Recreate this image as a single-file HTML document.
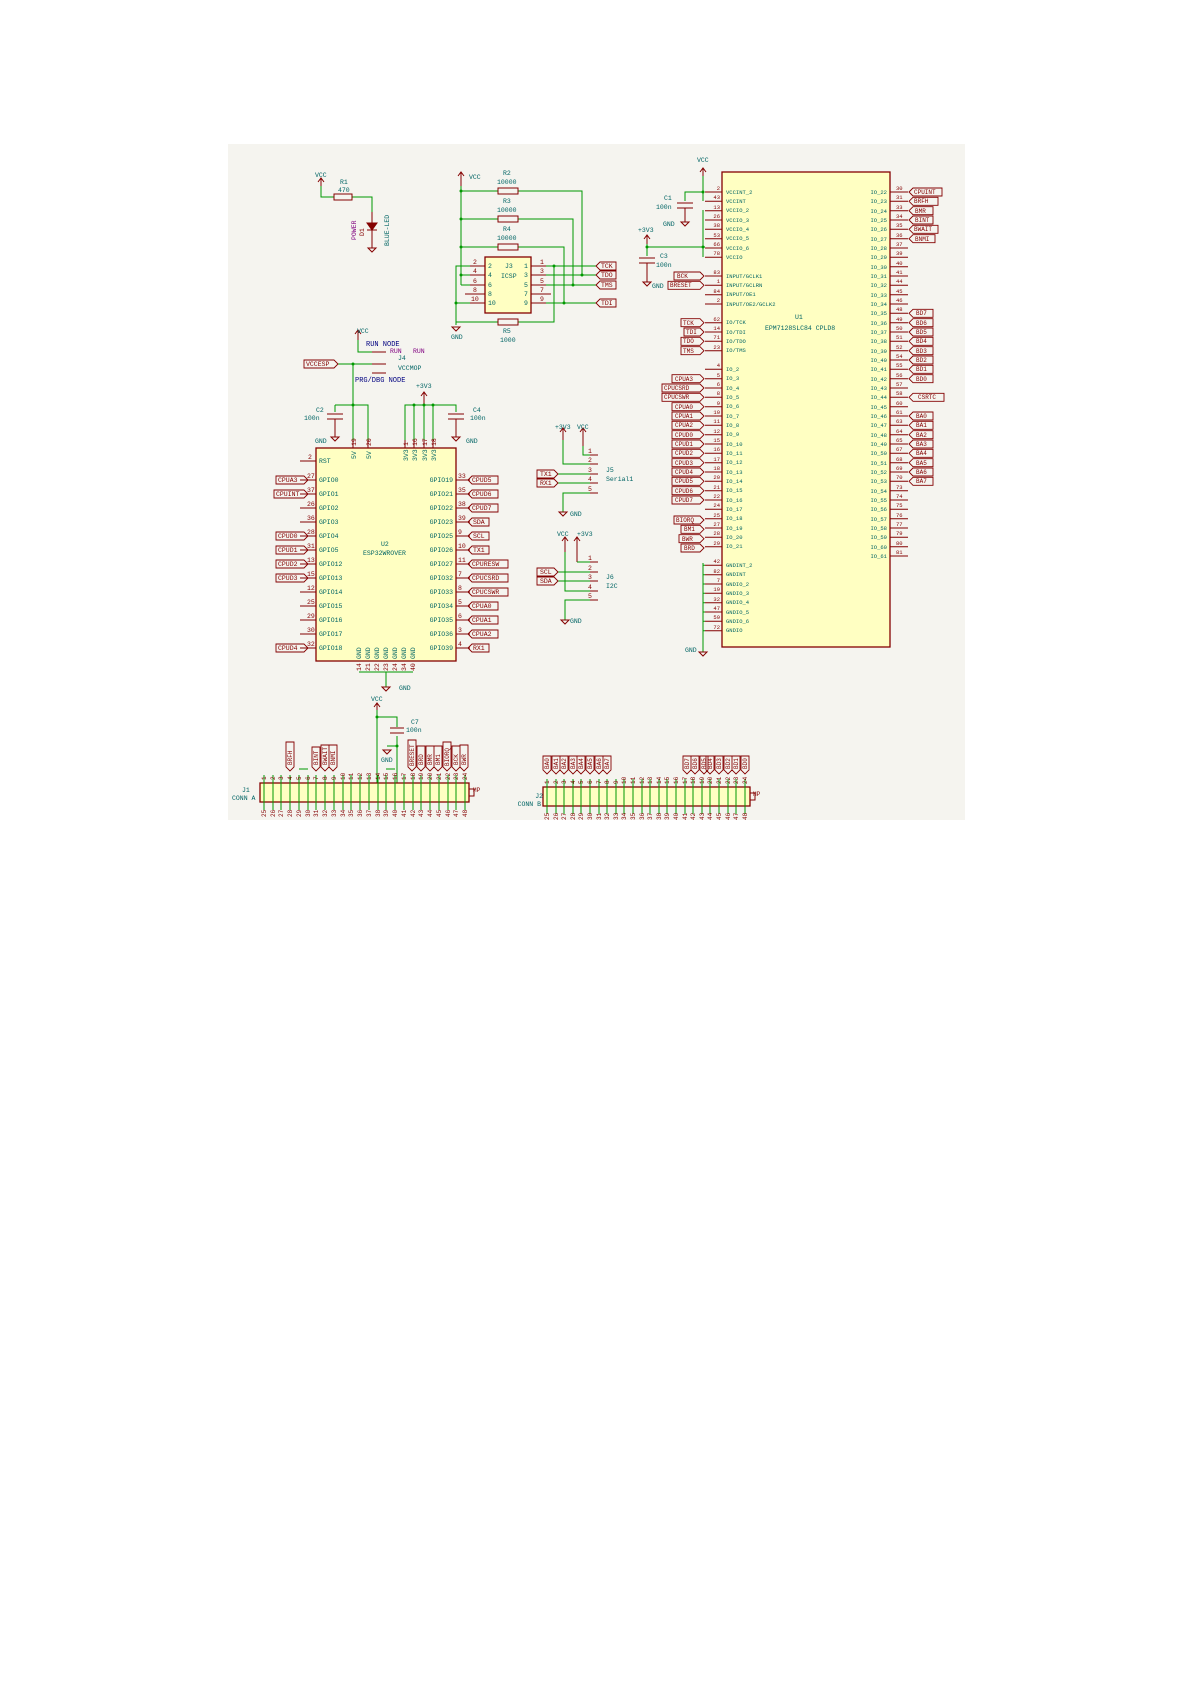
<!DOCTYPE html>
<html><head><meta charset="utf-8"><style>
html,body{margin:0;padding:0;background:#fff;}
svg{display:block;}
text{font-family:"Liberation Mono",monospace;}
.t{fill:#006464;font-size:6.5px;}
.r{fill:#840000;font-size:6.5px;}
.b{fill:#000080;font-size:7px;}
.p{fill:#800080;font-size:6.5px;}
.w{stroke:#009900;stroke-width:1;fill:none;}
.k{stroke:#840000;stroke-width:1;fill:none;}
.kb{stroke:#840000;stroke-width:1.3;fill:#ffffc2;}
.lb{stroke:#840000;stroke-width:0.9;fill:none;}
.d{fill:#009900;}
</style></head><body>
<svg width="1191" height="1684" viewBox="0 0 1191 1684" xmlns="http://www.w3.org/2000/svg">
<rect x="0" y="0" width="1191" height="1684" fill="#ffffff"/>
<rect x="228" y="144" width="737" height="676" fill="#f5f4ef"/>

<!-- R1 / D1 -->
<path class="k" d="M321 186 L321 178 M318 182 L321 178 L324 182"/>
<text class="t" x="315" y="177">VCC</text>
<path class="w" d="M321 186 L321 197 L334 197 M352 197 L372 197 L372 212"/>
<rect class="k" x="334" y="194" width="18" height="6"/>
<text class="t" x="340" y="184">R1</text><text class="t" x="338" y="192">470</text>
<path class="k" d="M372 212 L372 248 M367 223 L377 223 L372 230 Z M367 230 L377 230"/>
<path d="M367 223 L377 223 L372 230 Z" fill="#840000"/>
<path class="k" d="M368 248 L376 248 L372 252 Z"/>
<text class="p" transform="translate(356,240) rotate(-90)">POWER</text>
<text class="r" transform="translate(364,236) rotate(-90)">D1</text>
<text class="t" transform="translate(389,246) rotate(-90)">BLUE-LED</text>

<!-- R2-R5 / J3 -->
<path class="k" d="M461 186 L461 172 M458 176 L461 172 L464 176"/>
<text class="t" x="469" y="179">VCC</text>
<path class="w" d="M461 186 L461 285 M461 191 L498 191 M518 191 L582 191 L582 275 M461 219 L498 219 M518 219 L573 219 L573 285 M461 247 L498 247 M518 247 L564 247 L564 303 M461 275 L470 275 M461 285 L470 285"/>
<path class="w" d="M456 325 L456 266 L470 266 M456 303 L470 303 M456 322 L498 322 M518 322 L554 322 L554 266"/>
<path class="w" d="M546 266 L596 266 M546 275 L596 275 M546 285 L596 285 M546 303 L596 303"/>
<circle class="d" cx="461" cy="191" r="1.5"/><circle class="d" cx="461" cy="219" r="1.5"/><circle class="d" cx="461" cy="247" r="1.5"/><circle class="d" cx="461" cy="275" r="1.5"/><circle class="d" cx="456" cy="303" r="1.5"/><circle class="d" cx="554" cy="266" r="1.5"/><circle class="d" cx="582" cy="275" r="1.5"/><circle class="d" cx="573" cy="285" r="1.5"/><circle class="d" cx="564" cy="303" r="1.5"/>
<rect class="k" x="498" y="188" width="20" height="6"/><rect class="k" x="498" y="216" width="20" height="6"/><rect class="k" x="498" y="244" width="20" height="6"/><rect class="k" x="498" y="319" width="20" height="6"/>
<text class="t" x="503" y="175">R2</text><text class="t" x="497" y="184">10000</text>
<text class="t" x="503" y="203">R3</text><text class="t" x="497" y="212">10000</text>
<text class="t" x="503" y="231">R4</text><text class="t" x="497" y="240">10000</text>
<text class="t" x="503" y="333">R5</text><text class="t" x="500" y="342">1000</text>
<path class="k" d="M452 327 L460 327 L456 331 Z"/><text class="t" x="451" y="339">GND</text>
<rect class="kb" x="485" y="257" width="46" height="56"/>
<path class="k" d="M470 266 L485 266 M470 275 L485 275 M470 285 L485 285 M465 294 L485 294 M470 303 L485 303 M531 266 L546 266 M531 275 L546 275 M531 285 L546 285 M531 294 L551 294 M531 303 L546 303"/>
<text class="r" x="473" y="264">2</text><text class="r" x="473" y="273">4</text><text class="r" x="473" y="283">6</text><text class="r" x="473" y="292">8</text><text class="r" x="471" y="301">10</text>
<text class="t" x="488" y="268">2</text><text class="t" x="488" y="277">4</text><text class="t" x="488" y="287">6</text><text class="t" x="488" y="296">8</text><text class="t" x="488" y="305">10</text>
<text class="t" x="505" y="268">J3</text><text class="t" x="501" y="278">ICSP</text>
<text class="t" x="524" y="268">1</text><text class="t" x="524" y="277">3</text><text class="t" x="524" y="287">5</text><text class="t" x="524" y="296">7</text><text class="t" x="524" y="305">9</text>
<text class="r" x="540" y="264">1</text><text class="r" x="540" y="273">3</text><text class="r" x="540" y="283">5</text><text class="r" x="540" y="292">7</text><text class="r" x="540" y="301">9</text>
<path class="lb" d="M596 266 L600 262 L616 262 L616 270 L600 270 Z M596 275 L600 271 L616 271 L616 279 L600 279 Z M596 285 L600 281 L616 281 L616 289 L600 289 Z M596 303 L600 299 L616 299 L616 307 L600 307 Z"/>
<text class="r" x="601" y="268">TCK</text><text class="r" x="601" y="277">TDO</text><text class="r" x="601" y="287">TMS</text><text class="r" x="601" y="305">TDI</text>

<!-- J4 -->
<path class="k" d="M358 340 L358 330 M355 334 L358 330 L361 334"/><text class="t" x="357" y="333">VCC</text>
<path class="w" d="M358 340 L358 352 L372 352 M338 364 L372 364 M353 364 L353 448"/>
<circle class="d" cx="353" cy="364" r="1.5"/>
<path class="k" d="M372 352 L386 352 M372 364 L386 364 M372 373 L386 373"/>
<text class="b" x="366" y="346">RUN NODE</text>
<text class="p" x="390" y="353">RUN</text><text class="p" x="413" y="353">RUN</text>
<text class="t" x="398" y="360">J4</text><text class="t" x="398" y="370">VCCMOP</text>
<text class="b" x="355" y="382">PRG/DBG NODE</text>
<path class="lb" d="M304 360 L334 360 L338 364 L334 368 L304 368 Z"/><text class="r" x="306" y="366">VCCESP</text>

<!-- ESP32 U2 -->
<path class="k" d="M424 405 L424 392 M421 396 L424 392 L427 396"/><text class="t" x="416" y="388">+3V3</text>
<path class="w" d="M335 405 L368 405 L368 440 M405 440 L405 405 L456 405 L456 412 M414 405 L414 440 M424 405 L424 440 M433 405 L433 440 M335 405 L335 412"/>
<circle class="d" cx="353" cy="405" r="1.5"/><circle class="d" cx="414" cy="405" r="1.5"/><circle class="d" cx="424" cy="405" r="1.5"/><circle class="d" cx="433" cy="405" r="1.5"/>
<path class="k" d="M327 414 L343 414 M327 419 L343 419 M335 419 L335 437 M331 437 L339 437 L335 441 Z M448 414 L464 414 M448 419 L464 419 M456 419 L456 437 M452 437 L460 437 L456 441 Z"/>
<text class="t" x="316" y="412">C2</text><text class="t" x="304" y="420">100n</text><text class="t" x="315" y="443">GND</text>
<text class="t" x="473" y="412">C4</text><text class="t" x="470" y="420">100n</text><text class="t" x="466" y="443">GND</text>
<path class="k" d="M353 440 L353 448 M368 440 L368 448 M405 440 L405 448 M414 440 L414 448 M424 440 L424 448 M433 440 L433 448"/>
<rect class="kb" x="316" y="448" width="140" height="213"/>
<text class="t" transform="translate(356,459) rotate(-90)">5V</text><text class="t" transform="translate(371,459) rotate(-90)">5V</text>
<text class="t" transform="translate(408,461) rotate(-90)">3V3</text><text class="t" transform="translate(417,461) rotate(-90)">3V3</text><text class="t" transform="translate(427,461) rotate(-90)">3V3</text><text class="t" transform="translate(436,461) rotate(-90)">3V3</text>
<text class="r" transform="translate(356,446) rotate(-90)">19</text><text class="r" transform="translate(371,446) rotate(-90)">20</text><text class="r" transform="translate(408,446) rotate(-90)">1</text><text class="r" transform="translate(417,446) rotate(-90)">16</text><text class="r" transform="translate(427,446) rotate(-90)">17</text><text class="r" transform="translate(436,446) rotate(-90)">18</text>
<text class="t" x="381" y="546">U2</text><text class="t" x="363" y="555">ESP32WROVER</text>
<!-- left pins -->
<path class="k" d="M300 461 L316 461 M300 480 L316 480 M300 494 L316 494 M300 508 L316 508 M300 522 L316 522 M300 536 L316 536 M300 550 L316 550 M300 564 L316 564 M300 578 L316 578 M300 592 L316 592 M300 606 L316 606 M300 620 L316 620 M300 634 L316 634 M300 648 L316 648"/>
<path class="k" d="M456 480 L470 480 M456 494 L470 494 M456 508 L470 508 M456 522 L470 522 M456 536 L470 536 M456 550 L470 550 M456 564 L470 564 M456 578 L470 578 M456 592 L470 592 M456 606 L470 606 M456 620 L470 620 M456 634 L470 634 M456 648 L470 648"/>
<g class="t"><text x="319" y="463">RST</text><text x="319" y="482">GPIO0</text><text x="319" y="496">GPIO1</text><text x="319" y="510">GPIO2</text><text x="319" y="524">GPIO3</text><text x="319" y="538">GPIO4</text><text x="319" y="552">GPIO5</text><text x="319" y="566">GPIO12</text><text x="319" y="580">GPIO13</text><text x="319" y="594">GPIO14</text><text x="319" y="608">GPIO15</text><text x="319" y="622">GPIO16</text><text x="319" y="636">GPIO17</text><text x="319" y="650">GPIO18</text></g>
<g class="t" text-anchor="end"><text x="453" y="482">GPIO19</text><text x="453" y="496">GPIO21</text><text x="453" y="510">GPIO22</text><text x="453" y="524">GPIO23</text><text x="453" y="538">GPIO25</text><text x="453" y="552">GPIO26</text><text x="453" y="566">GPIO27</text><text x="453" y="580">GPIO32</text><text x="453" y="594">GPIO33</text><text x="453" y="608">GPIO34</text><text x="453" y="622">GPIO35</text><text x="453" y="636">GPIO36</text><text x="453" y="650">GPIO39</text></g>
<g class="r"><text x="308" y="459">2</text><text x="307" y="478">27</text><text x="307" y="492">37</text><text x="307" y="506">26</text><text x="307" y="520">36</text><text x="307" y="534">28</text><text x="307" y="548">31</text><text x="307" y="562">13</text><text x="307" y="576">15</text><text x="307" y="590">12</text><text x="307" y="604">25</text><text x="307" y="618">29</text><text x="307" y="632">30</text><text x="307" y="646">32</text>
<text x="458" y="478">33</text><text x="458" y="492">35</text><text x="458" y="506">38</text><text x="458" y="520">39</text><text x="458" y="534">9</text><text x="458" y="548">10</text><text x="458" y="562">11</text><text x="458" y="576">7</text><text x="458" y="590">8</text><text x="458" y="604">5</text><text x="458" y="618">6</text><text x="458" y="632">3</text><text x="458" y="646">4</text></g>
<path class="lb" d="M276 476 L304 476 L308 480 L304 484 L276 484 Z M274 490 L304 490 L308 494 L304 498 L274 498 Z M276 532 L304 532 L308 536 L304 540 L276 540 Z M276 546 L304 546 L308 550 L304 554 L276 554 Z M276 560 L304 560 L308 564 L304 568 L276 568 Z M276 574 L304 574 L308 578 L304 582 L276 582 Z M276 644 L304 644 L308 648 L304 652 L276 652 Z"/>
<g class="r"><text x="278" y="482">CPUA3</text><text x="276" y="496">CPUINT</text><text x="278" y="538">CPUD0</text><text x="278" y="552">CPUD1</text><text x="278" y="566">CPUD2</text><text x="278" y="580">CPUD3</text><text x="278" y="650">CPUD4</text></g>
<path class="lb" d="M468 480 L472 476 L498 476 L498 484 L472 484 Z M468 494 L472 490 L498 490 L498 498 L472 498 Z M468 508 L472 504 L498 504 L498 512 L472 512 Z M468 522 L472 518 L489 518 L489 526 L472 526 Z M468 536 L472 532 L489 532 L489 540 L472 540 Z M468 550 L472 546 L489 546 L489 554 L472 554 Z M468 564 L472 560 L508 560 L508 568 L472 568 Z M468 578 L472 574 L508 574 L508 582 L472 582 Z M468 592 L472 588 L508 588 L508 596 L472 596 Z M468 606 L472 602 L498 602 L498 610 L472 610 Z M468 620 L472 616 L498 616 L498 624 L472 624 Z M468 634 L472 630 L498 630 L498 638 L472 638 Z M468 648 L472 644 L489 644 L489 652 L472 652 Z"/>
<g class="r"><text x="472" y="482">CPUD5</text><text x="472" y="496">CPUD6</text><text x="472" y="510">CPUD7</text><text x="473" y="524">SDA</text><text x="473" y="538">SCL</text><text x="473" y="552">TX1</text><text x="472" y="566">CPURESW</text><text x="472" y="580">CPUCSRD</text><text x="472" y="594">CPUCSWR</text><text x="472" y="608">CPUA0</text><text x="472" y="622">CPUA1</text><text x="472" y="636">CPUA2</text><text x="473" y="650">RX1</text></g>
<g class="t"><text transform="translate(361,659) rotate(-90)">GND</text><text transform="translate(370,659) rotate(-90)">GND</text><text transform="translate(379,659) rotate(-90)">GND</text><text transform="translate(388,659) rotate(-90)">GND</text><text transform="translate(397,659) rotate(-90)">GND</text><text transform="translate(406,659) rotate(-90)">GND</text><text transform="translate(415,659) rotate(-90)">GND</text></g>
<g class="r"><text transform="translate(361,671) rotate(-90)">14</text><text transform="translate(370,671) rotate(-90)">21</text><text transform="translate(379,671) rotate(-90)">22</text><text transform="translate(388,671) rotate(-90)">23</text><text transform="translate(397,671) rotate(-90)">24</text><text transform="translate(406,671) rotate(-90)">34</text><text transform="translate(415,671) rotate(-90)">40</text></g>
<path class="w" d="M359 672 L413 672 M386 672 L386 687"/>
<path class="k" d="M382 687 L390 687 L386 691 Z"/><text class="t" x="399" y="690">GND</text>

<!-- C7 / VCC -->
<path class="k" d="M377 710 L377 703 M374 707 L377 703 L380 707"/><text class="t" x="371" y="701">VCC</text>
<path class="w" d="M377 710 L377 783 M377 717 L397 717 L397 727 M397 736 L397 746 L397 783 M387 746 L397 746"/>
<circle class="d" cx="377" cy="717" r="1.5"/><circle class="d" cx="397" cy="746" r="1.5"/>
<path class="k" d="M390 728 L404 728 M390 733 L404 733 M383 750 L391 750 L387 754 Z"/>
<text class="t" x="411" y="724">C7</text><text class="t" x="406" y="732">100n</text><text class="t" x="381" y="762">GND</text>

<!-- J5 / J6 -->
<path class="k" d="M563 440 L563 428 M560 432 L563 428 L566 432 M583 446 L583 428 M580 432 L583 428 L586 432"/>
<text class="t" x="555" y="429">+3V3</text><text class="t" x="577" y="429">VCC</text>
<path class="w" d="M583 446 L583 455 L590 455 M563 440 L563 464 L590 464 M558 474 L590 474 M558 483 L590 483 M563 512 L563 493 L590 493"/>
<path class="k" d="M590 455 L598 455 M590 464 L598 464 M590 474 L598 474 M590 483 L598 483 M590 493 L598 493 M559 512 L567 512 L563 516 Z"/>
<g class="r"><text x="588" y="453">1</text><text x="588" y="462">2</text><text x="588" y="472">3</text><text x="588" y="481">4</text><text x="588" y="491">5</text></g>
<text class="t" x="606" y="472">J5</text><text class="t" x="606" y="481">Serial1</text><text class="t" x="570" y="516">GND</text>
<path class="lb" d="M537 470 L554 470 L558 474 L554 478 L537 478 Z M537 479 L554 479 L558 483 L554 487 L537 487 Z"/>
<text class="r" x="540" y="476">TX1</text><text class="r" x="540" y="485">RX1</text>
<path class="k" d="M565 552 L565 537 M562 541 L565 537 L568 541 M577 562 L577 537 M574 541 L577 537 L580 541"/>
<text class="t" x="557" y="536">VCC</text><text class="t" x="577" y="536">+3V3</text>
<path class="w" d="M577 562 L590 562 M558 572 L590 572 M558 581 L590 581 M565 552 L565 591 L590 591 M565 620 L565 600 L590 600"/>
<path class="k" d="M590 562 L598 562 M590 572 L598 572 M590 581 L598 581 M590 591 L598 591 M590 600 L598 600 M561 620 L569 620 L565 624 Z"/>
<g class="r"><text x="588" y="560">1</text><text x="588" y="570">2</text><text x="588" y="579">3</text><text x="588" y="589">4</text><text x="588" y="598">5</text></g>
<text class="t" x="606" y="579">J6</text><text class="t" x="606" y="588">I2C</text><text class="t" x="570" y="623">GND</text>
<path class="lb" d="M537 568 L554 568 L558 572 L554 576 L537 576 Z M537 577 L554 577 L558 581 L554 585 L537 585 Z"/>
<text class="r" x="540" y="574">SCL</text><text class="r" x="540" y="583">SDA</text>

<!-- U1 CPLD -->
<path class="k" d="M703 176 L703 168 M700 172 L703 168 L706 172"/><text class="t" x="697" y="162">VCC</text>
<path class="w" d="M703 176 L703 201 M685 192 L703 192 L685 192 L685 201 M703 210 L703 257 M647 247 L705 247 M647 244 L647 256"/>
<circle class="d" cx="703" cy="192" r="1.5"/><circle class="d" cx="703" cy="247" r="1.5"/><circle class="d" cx="647" cy="247" r="1.5"/>
<path class="k" d="M677 203 L693 203 M677 208 L693 208 M685 208 L685 222 M681 222 L689 222 L685 226 Z"/>
<text class="t" x="664" y="200">C1</text><text class="t" x="656" y="209">100n</text><text class="t" x="663" y="226">GND</text>
<path class="k" d="M647 244 L647 235 M644 239 L647 235 L650 239 M639 258 L655 258 M639 263 L655 263 M647 263 L647 282 M643 282 L651 282 L647 286 Z"/>
<text class="t" x="638" y="232">+3V3</text><text class="t" x="660" y="258">C3</text><text class="t" x="656" y="267">100n</text><text class="t" x="652" y="288">GND</text>
<path class="w" d="M703 563 L703 652"/>
<path class="k" d="M699 652 L707 652 L703 656 Z"/><text class="t" x="685" y="652">GND</text>
<rect class="kb" x="722" y="172" width="168" height="475"/>
<text class="t" x="795" y="319">U1</text><text class="t" x="765" y="330">EPM7128SLC84 CPLD8</text>
<!-- left pin lines -->
<path class="k" d="M705 192H722M705 201.3H722M705 210.7H722M705 220H722M705 229.3H722M705 238.7H722M705 248H722M705 257.3H722M705 276H722M705 285.3H722M705 294.7H722M705 304H722M705 322.7H722M705 332H722M705 341.3H722M705 350.7H722M705 369.3H722M705 378.7H722M705 388H722M705 397.3H722M705 406.7H722M705 416H722M705 425.3H722M705 434.7H722M705 444H722M705 453.3H722M705 462.7H722M705 472H722M705 481.3H722M705 490.7H722M705 500H722M705 509.3H722M705 518.7H722M705 528H722M705 537.3H722M705 546.7H722M705 565.3H722M705 574.7H722M705 584H722M705 593.3H722M705 602.7H722M705 612H722M705 621.3H722M705 630.7H722"/>
<g class="t" style="font-size:5.5px"><text x="726" y="194">VCCINT_2</text><text x="726" y="203">VCCINT</text><text x="726" y="212">VCCIO_2</text><text x="726" y="222">VCCIO_3</text><text x="726" y="231">VCCIO_4</text><text x="726" y="240">VCCIO_5</text><text x="726" y="250">VCCIO_6</text><text x="726" y="259">VCCIO</text>
<text x="726" y="278">INPUT/GCLK1</text><text x="726" y="287">INPUT/GCLRN</text><text x="726" y="296">INPUT/OE1</text><text x="726" y="306">INPUT/OE2/GCLK2</text>
<text x="726" y="324">IO/TCK</text><text x="726" y="334">IO/TDI</text><text x="726" y="343">IO/TDO</text><text x="726" y="352">IO/TMS</text>
<text x="726" y="371">IO_2</text><text x="726" y="380">IO_3</text><text x="726" y="390">IO_4</text><text x="726" y="399">IO_5</text><text x="726" y="408">IO_6</text><text x="726" y="418">IO_7</text><text x="726" y="427">IO_8</text><text x="726" y="436">IO_9</text><text x="726" y="446">IO_10</text><text x="726" y="455">IO_11</text><text x="726" y="464">IO_12</text><text x="726" y="474">IO_13</text><text x="726" y="483">IO_14</text><text x="726" y="492">IO_15</text><text x="726" y="502">IO_16</text><text x="726" y="511">IO_17</text><text x="726" y="520">IO_18</text><text x="726" y="530">IO_19</text><text x="726" y="539">IO_20</text><text x="726" y="548">IO_21</text>
<text x="726" y="567">GNDINT_2</text><text x="726" y="576">GNDINT</text><text x="726" y="586">GNDIO_2</text><text x="726" y="595">GNDIO_3</text><text x="726" y="604">GNDIO_4</text><text x="726" y="614">GNDIO_5</text><text x="726" y="623">GNDIO_6</text><text x="726" y="632">GNDIO</text></g>
<g class="r" style="font-size:5.5px" text-anchor="end"><text x="720" y="190">2</text><text x="720" y="199">43</text><text x="720" y="209">13</text><text x="720" y="218">26</text><text x="720" y="227">38</text><text x="720" y="237">53</text><text x="720" y="246">66</text><text x="720" y="255">78</text><text x="720" y="274">83</text><text x="720" y="283">1</text><text x="720" y="293">84</text><text x="720" y="302">2</text><text x="720" y="321">62</text><text x="720" y="330">14</text><text x="720" y="339">71</text><text x="720" y="349">23</text>
<text x="720" y="367">4</text><text x="720" y="377">5</text><text x="720" y="386">6</text><text x="720" y="395">8</text><text x="720" y="405">9</text><text x="720" y="414">10</text><text x="720" y="423">11</text><text x="720" y="433">12</text><text x="720" y="442">15</text><text x="720" y="451">16</text><text x="720" y="461">17</text><text x="720" y="470">18</text><text x="720" y="479">20</text><text x="720" y="489">21</text><text x="720" y="498">22</text><text x="720" y="507">24</text><text x="720" y="517">25</text><text x="720" y="526">27</text><text x="720" y="535">28</text><text x="720" y="545">29</text>
<text x="720" y="563">42</text><text x="720" y="573">82</text><text x="720" y="582">7</text><text x="720" y="591">19</text><text x="720" y="601">32</text><text x="720" y="610">47</text><text x="720" y="619">59</text><text x="720" y="629">72</text></g>
<path class="w" d="M703 565.3H705M703 574.7H705M703 584H705M703 593.3H705M703 602.7H705M703 612H705M703 621.3H705M703 630.7H705"/>
<!-- left labels -->
<path class="lb" d="M674 272H700L704 276L700 280H674Z M668 281.3H700L704 285.3L700 289.3H668Z M681 318.7H700L704 322.7L700 326.7H681Z M684 328H700L704 332L700 336H684Z M681 337.3H700L704 341.3L700 345.3H681Z M681 346.7H700L704 350.7L700 354.7H681Z"/>
<g class="r" style="font-size:6px"><text x="677" y="278">BCK</text><text x="670" y="287">BRESET</text><text x="683" y="325">TCK</text><text x="686" y="334">TDI</text><text x="683" y="343">TDO</text><text x="683" y="353">TMS</text></g>
<path class="lb" d="M672 374.7H700L704 378.7L700 382.7H672Z M662 384H700L704 388L700 392H662Z M662 393.3H700L704 397.3L700 401.3H662Z M672 402.7H700L704 406.7L700 410.7H672Z M672 412H700L704 416L700 420H672Z M672 421.3H700L704 425.3L700 429.3H672Z M672 430.7H700L704 434.7L700 438.7H672Z M672 440H700L704 444L700 448H672Z M672 449.3H700L704 453.3L700 457.3H672Z M672 458.7H700L704 462.7L700 466.7H672Z M672 468H700L704 472L700 476H672Z M672 477.3H700L704 481.3L700 485.3H672Z M672 486.7H700L704 490.7L700 494.7H672Z M672 496H700L704 500L700 504H672Z M674 516H700L704 520L700 524H674Z M681 525.3H700L704 529.3L700 533.3H681Z M679 534.7H700L704 538.7L700 542.7H679Z M681 544H700L704 548L700 552H681Z"/>
<g class="r" style="font-size:6px"><text x="675" y="381">CPUA3</text><text x="664" y="390">CPUCSRD</text><text x="664" y="399">CPUCSWR</text><text x="675" y="409">CPUA0</text><text x="675" y="418">CPUA1</text><text x="675" y="427">CPUA2</text><text x="675" y="437">CPUD0</text><text x="675" y="446">CPUD1</text><text x="675" y="455">CPUD2</text><text x="675" y="465">CPUD3</text><text x="675" y="474">CPUD4</text><text x="675" y="483">CPUD5</text><text x="675" y="493">CPUD6</text><text x="675" y="502">CPUD7</text><text x="676" y="522">BIORQ</text><text x="684" y="531">BM1</text><text x="682" y="541">BWR</text><text x="684" y="550">BRD</text></g>
<!-- right pin lines -->
<path class="k" d="M890 192H908M890 201.3H908M890 210.7H908M890 220H908M890 229.3H908M890 238.7H908M890 248H908M890 257.3H908M890 266.7H908M890 276H908M890 285.3H908M890 294.7H908M890 304H908M890 313.3H908M890 322.7H908M890 332H908M890 341.3H908M890 350.7H908M890 360H908M890 369.3H908M890 378.7H908M890 388H908M890 397.3H908M890 406.7H908M890 416H908M890 425.3H908M890 434.7H908M890 444H908M890 453.3H908M890 462.7H908M890 472H908M890 481.3H908M890 490.7H908M890 500H908M890 509.3H908M890 518.7H908M890 528H908M890 537.3H908M890 546.7H908M890 556H908"/>
<g class="t" style="font-size:5.5px" text-anchor="end"><text x="887" y="194">IO_22</text><text x="887" y="203">IO_23</text><text x="887" y="213">IO_24</text><text x="887" y="222">IO_25</text><text x="887" y="231">IO_26</text><text x="887" y="241">IO_27</text><text x="887" y="250">IO_28</text><text x="887" y="259">IO_29</text><text x="887" y="269">IO_30</text><text x="887" y="278">IO_31</text><text x="887" y="287">IO_32</text><text x="887" y="297">IO_33</text><text x="887" y="306">IO_34</text><text x="887" y="315">IO_35</text><text x="887" y="325">IO_36</text><text x="887" y="334">IO_37</text><text x="887" y="343">IO_38</text><text x="887" y="353">IO_39</text><text x="887" y="362">IO_40</text><text x="887" y="371">IO_41</text><text x="887" y="381">IO_42</text><text x="887" y="390">IO_43</text><text x="887" y="399">IO_44</text><text x="887" y="409">IO_45</text><text x="887" y="418">IO_46</text><text x="887" y="427">IO_47</text><text x="887" y="437">IO_48</text><text x="887" y="446">IO_49</text><text x="887" y="455">IO_50</text><text x="887" y="465">IO_51</text><text x="887" y="474">IO_52</text><text x="887" y="483">IO_53</text><text x="887" y="493">IO_54</text><text x="887" y="502">IO_55</text><text x="887" y="511">IO_56</text><text x="887" y="521">IO_57</text><text x="887" y="530">IO_58</text><text x="887" y="539">IO_59</text><text x="887" y="549">IO_60</text><text x="887" y="558">IO_61</text></g>
<g class="r" style="font-size:5.5px"><text x="896" y="190">30</text><text x="896" y="199">31</text><text x="896" y="209">33</text><text x="896" y="218">34</text><text x="896" y="227">35</text><text x="896" y="237">36</text><text x="896" y="246">37</text><text x="896" y="255">39</text><text x="896" y="265">40</text><text x="896" y="274">41</text><text x="896" y="283">44</text><text x="896" y="293">45</text><text x="896" y="302">46</text><text x="896" y="311">48</text><text x="896" y="321">49</text><text x="896" y="330">50</text><text x="896" y="339">51</text><text x="896" y="349">52</text><text x="896" y="358">54</text><text x="896" y="367">55</text><text x="896" y="377">56</text><text x="896" y="386">57</text><text x="896" y="395">58</text><text x="896" y="405">60</text><text x="896" y="414">61</text><text x="896" y="423">63</text><text x="896" y="433">64</text><text x="896" y="442">65</text><text x="896" y="451">67</text><text x="896" y="461">68</text><text x="896" y="470">69</text><text x="896" y="479">70</text><text x="896" y="489">73</text><text x="896" y="498">74</text><text x="896" y="507">75</text><text x="896" y="517">76</text><text x="896" y="526">77</text><text x="896" y="535">79</text><text x="896" y="545">80</text><text x="896" y="554">81</text></g>
<path class="lb" d="M909 192L913 188H942V196H913Z M909 201.3L913 197.3H938V205.3H913Z M909 210.7L913 206.7H933V214.7H913Z M909 220L913 216H933V224H913Z M909 229.3L913 225.3H938V233.3H913Z M909 238.7L913 234.7H935V242.7H913Z
M909 313.3L913 309.3H933V317.3H913Z M909 322.7L913 318.7H933V326.7H913Z M909 332L913 328H933V336H913Z M909 341.3L913 337.3H933V345.3H913Z M909 350.7L913 346.7H933V354.7H913Z M909 360L913 356H933V364H913Z M909 369.3L913 365.3H933V373.3H913Z M909 378.7L913 374.7H933V382.7H913Z M909 397.3L913 393.3H944V401.3H913Z
M909 416L913 412H933V420H913Z M909 425.3L913 421.3H933V429.3H913Z M909 434.7L913 430.7H933V438.7H913Z M909 444L913 440H933V448H913Z M909 453.3L913 449.3H933V457.3H913Z M909 462.7L913 458.7H933V466.7H913Z M909 472L913 468H933V476H913Z M909 481.3L913 477.3H933V485.3H913Z"/>
<g class="r" style="font-size:6px"><text x="914" y="194">CPUINT</text><text x="914" y="203">BRFH</text><text x="915" y="213">BMR</text><text x="915" y="222">BINT</text><text x="914" y="231">BWAIT</text><text x="915" y="241">BNMI</text>
<text x="916" y="315">BD7</text><text x="916" y="325">BD6</text><text x="916" y="334">BD5</text><text x="916" y="343">BD4</text><text x="916" y="353">BD3</text><text x="916" y="362">BD2</text><text x="916" y="371">BD1</text><text x="916" y="381">BD0</text><text x="918" y="399">CSRTC</text>
<text x="916" y="418">BA0</text><text x="916" y="427">BA1</text><text x="916" y="437">BA2</text><text x="916" y="446">BA3</text><text x="916" y="455">BA4</text><text x="916" y="465">BA5</text><text x="916" y="474">BA6</text><text x="916" y="483">BA7</text></g>

<!-- J1 -->
<rect x="260" y="783" width="209" height="19" fill="#ffffc2" stroke="#840000" stroke-width="1.3"/>
<path class="w" d="M264 775V810M273 775V810M281 775V810M290 775V810M299 775V810M308 775V810M316 775V810M325 775V810M334 775V810M343 775V810M351 775V810M360 775V810M369 775V810M378 775V810M386 775V810M395 775V810M404 775V810M413 775V810M421 775V810M430 775V810M439 775V810M448 775V810M456 775V810M465 775V810"/>
<path class="w" d="M299 769H308M386 769H395"/>
<path class="k" d="M469 789H474V796H469"/><text class="r" x="473" y="792" style="font-size:6px">MP</text>
<text class="t" x="242" y="792">J1</text><text class="t" x="232" y="800">CONN A</text>
<g class="r" style="font-size:6px"><text transform="translate(266,780) rotate(-90)">1</text><text transform="translate(275,780) rotate(-90)">2</text><text transform="translate(283,780) rotate(-90)">3</text><text transform="translate(292,780) rotate(-90)">4</text><text transform="translate(301,780) rotate(-90)">5</text><text transform="translate(310,780) rotate(-90)">6</text><text transform="translate(318,780) rotate(-90)">7</text><text transform="translate(327,780) rotate(-90)">8</text><text transform="translate(336,780) rotate(-90)">9</text><text transform="translate(345,780) rotate(-90)">10</text><text transform="translate(353,780) rotate(-90)">11</text><text transform="translate(362,780) rotate(-90)">12</text><text transform="translate(371,780) rotate(-90)">13</text><text transform="translate(380,780) rotate(-90)">14</text><text transform="translate(388,780) rotate(-90)">15</text><text transform="translate(397,780) rotate(-90)">16</text><text transform="translate(406,780) rotate(-90)">17</text><text transform="translate(415,780) rotate(-90)">18</text><text transform="translate(423,780) rotate(-90)">19</text><text transform="translate(432,780) rotate(-90)">20</text><text transform="translate(441,780) rotate(-90)">21</text><text transform="translate(450,780) rotate(-90)">22</text><text transform="translate(458,780) rotate(-90)">23</text><text transform="translate(467,780) rotate(-90)">24</text>
<text transform="translate(266,817) rotate(-90)">25</text><text transform="translate(275,817) rotate(-90)">26</text><text transform="translate(283,817) rotate(-90)">27</text><text transform="translate(292,817) rotate(-90)">28</text><text transform="translate(301,817) rotate(-90)">29</text><text transform="translate(310,817) rotate(-90)">30</text><text transform="translate(318,817) rotate(-90)">31</text><text transform="translate(327,817) rotate(-90)">32</text><text transform="translate(336,817) rotate(-90)">33</text><text transform="translate(345,817) rotate(-90)">34</text><text transform="translate(353,817) rotate(-90)">35</text><text transform="translate(362,817) rotate(-90)">36</text><text transform="translate(371,817) rotate(-90)">37</text><text transform="translate(380,817) rotate(-90)">38</text><text transform="translate(388,817) rotate(-90)">39</text><text transform="translate(397,817) rotate(-90)">40</text><text transform="translate(406,817) rotate(-90)">41</text><text transform="translate(415,817) rotate(-90)">42</text><text transform="translate(423,817) rotate(-90)">43</text><text transform="translate(432,817) rotate(-90)">44</text><text transform="translate(441,817) rotate(-90)">45</text><text transform="translate(450,817) rotate(-90)">46</text><text transform="translate(458,817) rotate(-90)">47</text><text transform="translate(467,817) rotate(-90)">48</text></g>
<path class="lb" d="M286 767V742H294V767L290 771Z M312 767V747H320V767L316 771Z M321 767V745H329V767L325 771Z M329 767V745H337V767L333 771Z M408 767V740H416V767L412 771Z M417 767V746H425V767L421 771Z M426 767V746H434V767L430 771Z M434 767V746H442V767L438 771Z M443 767V742H451V767L447 771Z M452 767V746H460V767L456 771Z M460 767V745H468V767L464 771Z"/>
<g class="r" style="font-size:6px"><text transform="translate(292,765) rotate(-90)">BRFH</text><text transform="translate(318,765) rotate(-90)">BINT</text><text transform="translate(327,765) rotate(-90)">BWAIT</text><text transform="translate(335,765) rotate(-90)">BNMI</text><text transform="translate(414,766) rotate(-90)">BRESET</text><text transform="translate(423,765) rotate(-90)">BRD</text><text transform="translate(432,765) rotate(-90)">BMR</text><text transform="translate(440,765) rotate(-90)">BM1</text><text transform="translate(449,766) rotate(-90)">BIORQ</text><text transform="translate(458,765) rotate(-90)">BCK</text><text transform="translate(466,765) rotate(-90)">BWR</text></g>

<!-- J2 -->
<rect x="543" y="787" width="207" height="19" fill="#ffffc2" stroke="#840000" stroke-width="1.3"/>
<path class="w" d="M547 779V814M556 779V814M564 779V814M573 779V814M581 779V814M590 779V814M599 779V814M607 779V814M616 779V814M624 779V814M633 779V814M642 779V814M650 779V814M659 779V814M667 779V814M676 779V814M685 779V814M693 779V814M702 779V814M710 779V814M719 779V814M728 779V814M736 779V814M745 779V814"/>
<path class="k" d="M750 793H755V800H750"/><text class="r" x="753" y="796" style="font-size:6px">MP</text>
<text class="t" x="543" y="798" text-anchor="end">J2</text><text class="t" x="541" y="806" text-anchor="end">CONN B</text>
<g class="r" style="font-size:6px"><text transform="translate(549,784) rotate(-90)">1</text><text transform="translate(558,784) rotate(-90)">2</text><text transform="translate(566,784) rotate(-90)">3</text><text transform="translate(575,784) rotate(-90)">4</text><text transform="translate(583,784) rotate(-90)">5</text><text transform="translate(592,784) rotate(-90)">6</text><text transform="translate(601,784) rotate(-90)">7</text><text transform="translate(609,784) rotate(-90)">8</text><text transform="translate(618,784) rotate(-90)">9</text><text transform="translate(626,784) rotate(-90)">10</text><text transform="translate(635,784) rotate(-90)">11</text><text transform="translate(644,784) rotate(-90)">12</text><text transform="translate(652,784) rotate(-90)">13</text><text transform="translate(661,784) rotate(-90)">14</text><text transform="translate(669,784) rotate(-90)">15</text><text transform="translate(678,784) rotate(-90)">16</text><text transform="translate(687,784) rotate(-90)">17</text><text transform="translate(695,784) rotate(-90)">18</text><text transform="translate(704,784) rotate(-90)">19</text><text transform="translate(712,784) rotate(-90)">20</text><text transform="translate(721,784) rotate(-90)">21</text><text transform="translate(730,784) rotate(-90)">22</text><text transform="translate(738,784) rotate(-90)">23</text><text transform="translate(747,784) rotate(-90)">24</text>
<text transform="translate(549,820) rotate(-90)">25</text><text transform="translate(558,820) rotate(-90)">26</text><text transform="translate(566,820) rotate(-90)">27</text><text transform="translate(575,820) rotate(-90)">28</text><text transform="translate(583,820) rotate(-90)">29</text><text transform="translate(592,820) rotate(-90)">30</text><text transform="translate(601,820) rotate(-90)">31</text><text transform="translate(609,820) rotate(-90)">32</text><text transform="translate(618,820) rotate(-90)">33</text><text transform="translate(626,820) rotate(-90)">34</text><text transform="translate(635,820) rotate(-90)">35</text><text transform="translate(644,820) rotate(-90)">36</text><text transform="translate(652,820) rotate(-90)">37</text><text transform="translate(661,820) rotate(-90)">38</text><text transform="translate(669,820) rotate(-90)">39</text><text transform="translate(678,820) rotate(-90)">40</text><text transform="translate(687,820) rotate(-90)">41</text><text transform="translate(695,820) rotate(-90)">42</text><text transform="translate(704,820) rotate(-90)">43</text><text transform="translate(712,820) rotate(-90)">44</text><text transform="translate(721,820) rotate(-90)">45</text><text transform="translate(730,820) rotate(-90)">46</text><text transform="translate(738,820) rotate(-90)">47</text><text transform="translate(747,820) rotate(-90)">48</text></g>
<path class="lb" d="M543 770V756H551V770L547 774Z M552 770V756H560V770L556 774Z M560 770V756H568V770L564 774Z M569 770V756H577V770L573 774Z M577 770V756H585V770L581 774Z M586 770V756H594V770L590 774Z M595 770V756H603V770L599 774Z M603 770V756H611V770L607 774Z
M683 770V756H691V770L687 774Z M691 770V756H699V770L695 774Z M700 770V756H708V770L704 774Z M706 770V756H714V770L710 774Z M715 770V756H723V770L719 774Z M724 770V756H732V770L728 774Z M732 770V756H740V770L736 774Z M741 770V756H749V770L745 774Z"/>
<g class="r" style="font-size:6px"><text transform="translate(549,769) rotate(-90)">BA0</text><text transform="translate(558,769) rotate(-90)">BA1</text><text transform="translate(566,769) rotate(-90)">BA2</text><text transform="translate(575,769) rotate(-90)">BA3</text><text transform="translate(583,769) rotate(-90)">BA4</text><text transform="translate(592,769) rotate(-90)">BA5</text><text transform="translate(601,769) rotate(-90)">BA6</text><text transform="translate(609,769) rotate(-90)">BA7</text>
<text transform="translate(689,769) rotate(-90)">BD7</text><text transform="translate(697,769) rotate(-90)">BD6</text><text transform="translate(706,769) rotate(-90)">BD5</text><text transform="translate(712,769) rotate(-90)">BD4</text><text transform="translate(721,769) rotate(-90)">BD3</text><text transform="translate(730,769) rotate(-90)">BD2</text><text transform="translate(738,769) rotate(-90)">BD1</text><text transform="translate(747,769) rotate(-90)">BD0</text></g>
</svg>
</body></html>
